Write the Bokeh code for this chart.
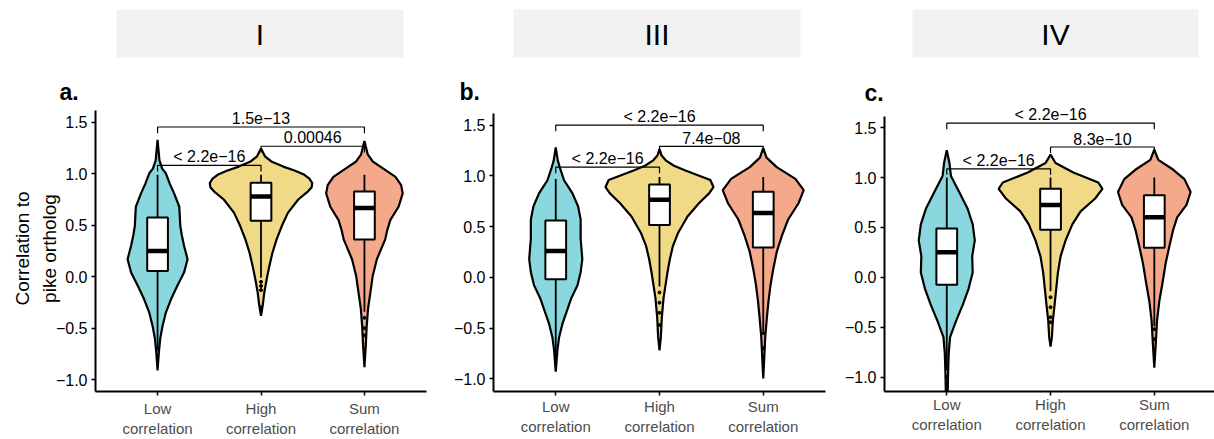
from bokeh.plotting import figure
from bokeh.layouts import row, column
from bokeh.models import Range1d, FixedTicker
from bokeh.core.properties import value
from bokeh.embed import file_html
from bokeh.resources import INLINE

FONT = "Liberation Sans"

HEADERS = ["I", "III", "IV"]
PANEL_LETTERS = ["a.", "b.", "c."]
CATEGORIES = ["Low\ncorrelation", "High\ncorrelation", "Sum\ncorrelation"]
COLORS = ["#8ad8dd", "#f0da87", "#f4a98a"]
Y_TICKS = [-1.0, -0.5, 0.0, 0.5, 1.0, 1.5]
Y_TICK_LABELS = ["\u22121.0", "\u22120.5", "0.0", "0.5", "1.0", "1.5"]

# ---- violin outlines (value, half-width in category units) ----
a_low_y = [1.33, 1.20, 1.13, 1.05, 1.005, 0.90, 0.81, 0.68, 0.49, 0.40, 0.30, 0.17, 0.04, -0.09, -0.22, -0.35, -0.48, -0.60, -0.73, -0.91]
a_low_w = [0.0, 0.012, 0.018, 0.045, 0.08, 0.12, 0.16, 0.21, 0.22, 0.235, 0.256, 0.29, 0.256, 0.19, 0.13, 0.08, 0.048, 0.026, 0.013, 0.0]
a_high_y = [1.246, 1.17, 1.12, 1.07, 1.03, 0.99, 0.95, 0.91, 0.87, 0.83, 0.75, 0.62, 0.49, 0.36, 0.23, 0.10, -0.025, -0.154, -0.283, -0.38]
a_high_w = [0.0, 0.038, 0.10, 0.215, 0.33, 0.42, 0.47, 0.495, 0.49, 0.455, 0.36, 0.26, 0.20, 0.15, 0.11, 0.08, 0.055, 0.032, 0.016, 0.0]
a_sum_y = [1.32, 1.19, 1.12, 1.07, 0.97, 0.89, 0.81, 0.68, 0.55, 0.45, 0.36, 0.17, 0.007, -0.15, -0.31, -0.48, -0.67, -0.88]
a_sum_w = [0.0, 0.032, 0.08, 0.154, 0.30, 0.355, 0.37, 0.33, 0.25, 0.22, 0.20, 0.12, 0.08, 0.058, 0.035, 0.022, 0.013, 0.0]

b_low_y = [1.28, 1.15, 1.086, 0.957, 0.83, 0.70, 0.57, 0.38, 0.18, 0.05, -0.077, -0.206, -0.335, -0.46, -0.593, -0.72, -0.93]
b_low_w = [0.0, 0.02, 0.038, 0.08, 0.16, 0.215, 0.24, 0.24, 0.256, 0.24, 0.21, 0.15, 0.106, 0.064, 0.032, 0.016, 0.0]
b_high_y = [1.264, 1.20, 1.15, 1.10, 1.054, 0.96, 0.89, 0.83, 0.73, 0.60, 0.44, 0.31, 0.18, 0.05, -0.077, -0.206, -0.40, -0.59, -0.72]
b_high_w = [0.0, 0.02, 0.064, 0.14, 0.25, 0.49, 0.52, 0.48, 0.38, 0.27, 0.18, 0.13, 0.10, 0.077, 0.058, 0.039, 0.022, 0.013, 0.0]
b_sum_y = [1.274, 1.18, 1.086, 0.97, 0.86, 0.73, 0.57, 0.41, 0.25, 0.085, -0.077, -0.24, -0.40, -0.59, -0.79, -0.997]
b_sum_w = [0.0, 0.032, 0.13, 0.31, 0.39, 0.34, 0.24, 0.18, 0.13, 0.097, 0.07, 0.05, 0.035, 0.019, 0.01, 0.0]

c_low_y = [1.274, 1.145, 1.016, 0.855, 0.69, 0.53, 0.37, 0.21, 0.047, -0.115, -0.276, -0.437, -0.6, -0.76, -0.953, -1.2]
c_low_w = [0.0, 0.026, 0.04, 0.12, 0.20, 0.25, 0.27, 0.245, 0.25, 0.21, 0.154, 0.09, 0.032, 0.019, 0.013, 0.008]
c_high_y = [1.23, 1.145, 1.05, 0.95, 0.887, 0.79, 0.66, 0.53, 0.37, 0.21, 0.047, -0.115, -0.276, -0.437, -0.6, -0.695]
c_high_w = [0.0, 0.048, 0.22, 0.46, 0.50, 0.43, 0.29, 0.21, 0.145, 0.097, 0.071, 0.055, 0.039, 0.022, 0.013, 0.0]
c_sum_y = [1.28, 1.177, 1.08, 0.984, 0.855, 0.725, 0.60, 0.47, 0.31, 0.144, -0.05, -0.24, -0.437, -0.63, -0.905]
c_sum_w = [0.0, 0.038, 0.18, 0.29, 0.35, 0.31, 0.22, 0.18, 0.145, 0.11, 0.08, 0.048, 0.026, 0.016, 0.0]

# ---- box plot statistics per group (Low, High, Sum) ----
a_q1 = [0.055, 0.544, 0.361]; a_med = [0.25, 0.78, 0.667]; a_q3 = [0.576, 0.914, 0.827]
a_whi = [0.99, 0.99, 0.99]; a_wlo = [-0.72, -0.01, -0.34]
b_q1 = [-0.02, 0.515, 0.295]; b_med = [0.26, 0.764, 0.635]; b_q3 = [0.56, 0.916, 0.844]
b_whi = [0.97, 0.99, 0.99]; b_wlo = [-0.89, -0.09, -0.53]
c_q1 = [-0.076, 0.477, 0.296]; c_med = [0.25, 0.725, 0.603]; c_q3 = [0.49, 0.887, 0.822]
c_whi = [1.0, 1.0, 1.0]; c_wlo = [-0.93, -0.14, -0.49]

# ---- outliers (group number, value) ----
a_out_g = [2, 2, 2, 2, 3, 3, 3]; a_out_v = [-0.05, -0.09, -0.13, -0.3, -0.4, -0.5, -0.57]
b_out_g = [2, 2, 2, 2, 3, 3]; b_out_v = [-0.15, -0.25, -0.35, -0.47, -0.55, -0.7]
c_out_g = [1, 1, 2, 2, 2, 2, 3, 3]; c_out_v = [-1.0, -1.1, -0.2, -0.3, -0.4, -0.45, -0.52, -0.62]

# ---- significance brackets ----
BRACKET_PAIRS = [(1, 2), (2, 3), (1, 3)]
a_br_y = [1.082, 1.268, 1.455]; a_br_txt = ["< 2.2e\u221216", "0.00046", "1.5e\u221213"]
b_br_y = [1.086, 1.29, 1.50]; b_br_txt = ["< 2.2e\u221216", "7.4e\u221208", "< 2.2e\u221216"]
c_br_y = [1.087, 1.306, 1.545]; c_br_txt = ["< 2.2e\u221216", "8.3e\u221210", "< 2.2e\u221216"]

# ---- layout constants (page pixels) ----
W, H = 1214, 439
HEAD_H = 104
STRIP_LEFT = [116, 513, 912]
STRIP_RIGHT = [403, 800, 1198]
STRIP_TOP, STRIP_BOTTOM = 9, 57
LETTER_X = [59, 459, 864]
LETTER_Y = [91, 91, 92]


def header():
    h = figure(width=W, height=HEAD_H, x_range=Range1d(0, W), y_range=Range1d(HEAD_H, 0),
               output_backend="svg", toolbar_location=None,
               x_axis_location=None, y_axis_location=None, min_border=0)
    h.outline_line_color = None
    h.grid.visible = False
    h.quad(left=STRIP_LEFT, right=STRIP_RIGHT, top=[STRIP_TOP] * 3, bottom=[STRIP_BOTTOM] * 3,
           fill_color="#f2f2f2", line_color=None)
    h.text(x=[(l + r) / 2 for l, r in zip(STRIP_LEFT, STRIP_RIGHT)],
           y=[(STRIP_TOP + STRIP_BOTTOM) / 2 + 1] * 3, text=HEADERS,
           text_align="center", text_baseline="middle",
           text_font=value(FONT), text_font_size="30px", text_color="#000000")
    h.text(x=LETTER_X, y=LETTER_Y, text=PANEL_LETTERS, text_align="left",
           text_baseline="alphabetic", text_font=value(FONT), text_font_size="23px",
           text_font_style="bold", text_color="#000000")
    return h


def panel(width, bl, br, bt, bb, xr, yr, ybounds, xstand, violins, q1, med, q3, whi, wlo,
          out_g, out_v, br_y, br_txt, ylabel=None):
    p = figure(width=width, height=H - HEAD_H, x_range=Range1d(*xr), y_range=Range1d(*yr),
               output_backend="svg", toolbar_location=None,
               min_border_left=bl, min_border_right=br, min_border_top=bt, min_border_bottom=bb)
    p.outline_line_color = None
    p.grid.visible = False
    p.background_fill_color = "white"

    for i, (vy, vw) in enumerate(violins):
        cx = i + 1
        xs = [cx - w for w in vw] + [cx + w for w in reversed(vw)]
        ys = list(vy) + list(reversed(vy))
        p.patch(xs, ys, fill_color=COLORS[i], line_color="black", line_width=2.2)

    cats = [1, 2, 3]
    p.segment(x0=cats, y0=q3, x1=cats, y1=whi, line_color="black", line_width=1.8)
    p.segment(x0=cats, y0=q1, x1=cats, y1=wlo, line_color="black", line_width=1.8)
    p.scatter(x=out_g, y=out_v, size=3, color="black")
    p.quad(left=[c - 0.1 for c in cats], right=[c + 0.1 for c in cats], bottom=q1, top=q3,
           fill_color="white", line_color="black", line_width=2)
    p.segment(x0=[c - 0.1 for c in cats], y0=med, x1=[c + 0.1 for c in cats], y1=med,
              line_color="black", line_width=4.5)

    tip = 0.06
    bx, by = [], []
    for (g1, g2), yv in zip(BRACKET_PAIRS, br_y):
        bx.append([g1, g1, g2, g2])
        by.append([yv - tip, yv, yv, yv - tip])
    p.multi_line(bx, by, line_color="black", line_width=1.2)
    p.text(x=[(a + b) / 2 for a, b in BRACKET_PAIRS], y=[v + 0.085 for v in br_y], text=br_txt,
           text_align="center", text_baseline="alphabetic", text_font=value(FONT),
           text_font_size="16px", text_color="black")

    for ax in (p.xaxis[0], p.yaxis[0]):
        ax.axis_line_width = 2
        ax.axis_line_color = "black"
        ax.major_tick_line_color = "black"
        ax.major_tick_line_width = 1.5
        ax.major_tick_out = 4
        ax.major_tick_in = 0
        ax.minor_tick_line_color = None
        ax.major_label_text_font = FONT

    p.xaxis.ticker = FixedTicker(ticks=[1, 2, 3])
    p.xaxis.major_label_overrides = {1: CATEGORIES[0], 2: CATEGORIES[1], 3: CATEGORIES[2]}
    p.xaxis.major_label_text_font_size = "15px"
    p.xaxis.major_label_text_color = "#4d4d4d"
    p.xaxis.major_label_standoff = xstand

    p.yaxis.ticker = FixedTicker(ticks=Y_TICKS)
    p.yaxis.major_label_overrides = {t: l for t, l in zip(Y_TICKS, Y_TICK_LABELS)}
    p.yaxis.major_label_text_font_size = "16px"
    p.yaxis.major_label_text_color = "black"
    p.yaxis.major_label_standoff = 4
    p.yaxis.bounds = ybounds
    if ylabel:
        p.yaxis.axis_label = ylabel
        p.yaxis.axis_label_text_font = FONT
        p.yaxis.axis_label_text_font_size = "19px"
        p.yaxis.axis_label_text_font_style = "normal"
        p.yaxis.axis_label_text_color = "black"
        p.yaxis.axis_label_text_line_height = 1.3
        p.yaxis.axis_label_standoff = -7
    return p


pa = panel(440, 95, 14, 1, 46, (0.4, 3.6), (-1.116, 1.664), (-1.116, 1.616), 4,
           [(a_low_y, a_low_w), (a_high_y, a_high_w), (a_sum_y, a_sum_w)],
           a_q1, a_med, a_q3, a_whi, a_wlo, a_out_g, a_out_v, a_br_y, a_br_txt,
           ylabel="Correlation to\npike ortholog")
pb = panel(400, 53, 15, 0, 44, (0.4, 3.6), (-1.126, 1.694), (-1.126, 1.616), 2,
           [(b_low_y, b_low_w), (b_high_y, b_high_w), (b_sum_y, b_sum_w)],
           b_q1, b_med, b_q3, b_whi, b_wlo, b_out_g, b_out_v, b_br_y, b_br_txt)
pc = panel(374, 44, 0, 0, 39, (0.4, 3.58), (-1.145, 1.722), (-1.145, 1.613), 0,
           [(c_low_y, c_low_w), (c_high_y, c_high_w), (c_sum_y, c_sum_w)],
           c_q1, c_med, c_q3, c_whi, c_wlo, c_out_g, c_out_v, c_br_y, c_br_txt)

layout = column(header(), row(pa, pb, pc))

open("out.html", "w").write(file_html(layout, INLINE))
